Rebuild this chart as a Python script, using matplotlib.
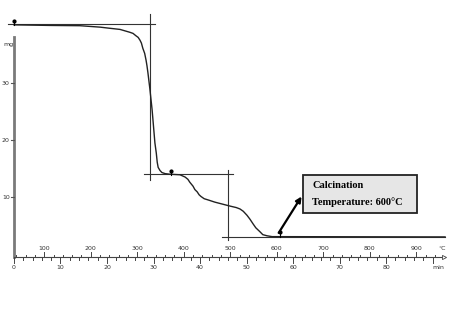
import matplotlib
matplotlib.use('Agg')
import matplotlib.pyplot as plt
import numpy as np
from matplotlib.patches import Rectangle

# TGA curve: time (min) vs mass (mg)
time = [0, 7.7, 14.2, 18.5, 20.6, 22.8, 24.9, 25.6, 26.2, 26.7, 27.1, 27.4, 27.7,
        28.1, 28.4, 28.6, 28.8, 29.2, 29.7, 30.3, 30.6, 30.8, 31.0, 31.4, 31.8,
        32.5, 33.5, 35.7, 36.8, 37.4, 37.8, 38.5, 38.9, 39.4, 39.8, 40.2, 40.9,
        41.7, 43.2, 46.5, 47.8, 48.6, 49.3, 50.1, 50.75, 51.4, 52.0, 52.9, 53.5,
        54.4, 55.5, 92.7]
mass = [40.2, 40.1, 40.05, 39.8, 39.6, 39.4, 38.9, 38.7, 38.3, 38.0, 37.5, 37.0, 36.1,
        35.2, 34.0, 33.0, 31.8, 29.1, 25.3, 19.5, 17.7, 16.1, 15.2, 14.65, 14.3,
        14.1, 14.0, 13.9, 13.5, 13.1, 12.6, 11.9, 11.3, 10.9, 10.4, 10.1, 9.7,
        9.5, 9.1, 8.4, 8.15, 7.9, 7.5, 6.8, 6.1, 5.3, 4.6, 3.9, 3.4,
        3.2, 3.05, 3.0]

mass_ticks = [10, 20, 30]
time_ticks = [0, 10, 20, 30, 40, 50, 60, 70, 80]
temp_ticks = [100, 200, 300, 400, 500, 600, 700, 800, 900]
rate = 10.0      # degC per min
t0_temp = 35.0   # degC at t=0

# tangent construction lines (t0, t1, m0, m1)
constr = [(-1.3, 30.3, 40.3, 40.3),
          (29.3, 29.3, 42.1, 13.0),
          (28.0, 47.1, 13.95, 13.95),
          (46.0, 46.0, 14.7, 2.5),
          (44.7, 92.7, 3.07, 3.07)]
pins = [(0, 40.6), (33.8, 14.3), (57.2, 3.5)]

fig = plt.figure(figsize=(4.5, 3.1), dpi=100)
ax = fig.add_axes([0, 0, 1, 1])
ax.set_xlim(-3.01, 93.76)
ax.set_ylim(-9.82, 44.56)
ax.axis('off')

base = -0.6

# left axis
ax.plot([0, 0], [base, 38.1], color='#7a7a7a', lw=2)
for m in mass_ticks:
    ax.plot([-0.6, 0], [m, m], color='#555555', lw=0.8)
    ax.text(-0.9, m, str(m), ha='right', va='center', fontsize=4.5, color='#333333')
ax.text(-2.2, 36.7, 'mg', ha='left', va='center', fontsize=4.5, color='#333333')

# bottom axis
ax.plot([0, 92.5], [base, base], color='#444444', lw=0.8)
for t in np.arange(0, 91, 2):
    h = 0.9 if t % 10 == 0 else 0.5
    ax.plot([t, t], [base, base - h], color='#444444', lw=0.7)
for T in np.arange(40, 960, 20):
    t = (T - t0_temp) / rate
    if t > 91:
        break
    h = 0.9 if T % 100 == 0 else 0.5
    ax.plot([t, t], [base, base + h], color='#444444', lw=0.7)
for t in time_ticks:
    ax.text(t, -2.3, str(t), ha='center', va='center', fontsize=4.5, color='#333333')
for T in temp_ticks:
    ax.text((T - t0_temp) / rate, 1.05, str(T), ha='center', va='center', fontsize=4.5,
            color='#333333')
ax.text(92.1, 1.05, '°C', ha='center', va='center', fontsize=4.5, color='#333333')
ax.text(91.3, -2.35, 'min', ha='center', va='center', fontsize=4.5, color='#333333')
ax.plot([92.5], [base], marker='>', ms=3, mfc='white', mec='#444444', mew=0.6)

# construction lines
for t0, t1, m0, m1 in constr:
    ax.plot([t0, t1], [m0, m1], color='#333333', lw=0.8)

# curve
ax.plot(time, mass, color='#222222', lw=1.0)

for t, m in pins:
    ax.plot([t, t], [m - 0.5, m + 0.4], color='black', lw=0.8)
    ax.plot([t], [m + 0.35], marker='o', ms=2, color='black')

# annotation box
ax.add_patch(Rectangle((62.2, 7.2), 24.5, 6.7, facecolor='#e6e6e6', edgecolor='#222222', lw=1.3))
ax.text(64.1, 12.1, 'Calcination', ha='left', va='center', fontsize=7.5,
        fontweight='bold', family='Liberation Serif')
ax.text(64.1, 9.1, 'Temperature: 600°C', ha='left', va='center', fontsize=7.5,
        fontweight='bold', family='Liberation Serif')
ax.annotate('', xy=(62.15, 10.5), xytext=(56.6, 3.3),
            arrowprops=dict(arrowstyle='-|>', color='black', lw=1.6, mutation_scale=8))

fig.savefig('out.png', dpi=100)
